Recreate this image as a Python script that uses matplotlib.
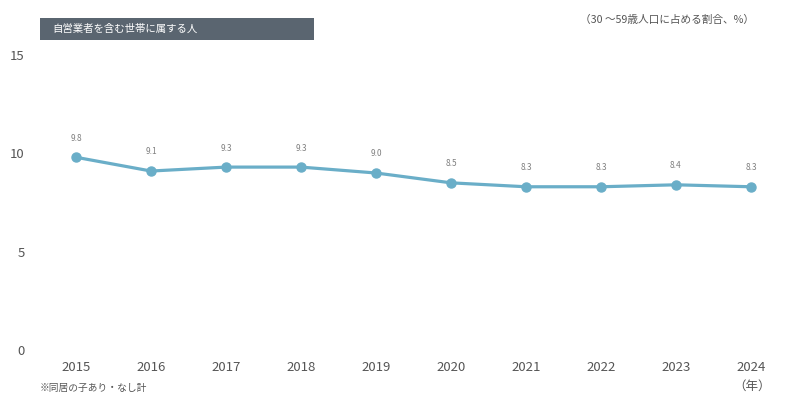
import matplotlib.pyplot as plt
from matplotlib.patches import Rectangle

plt.rcParams['font.family'] = ['Noto Sans CJK JP', 'DejaVu Sans']

# Data
years = [2015, 2016, 2017, 2018, 2019, 2020, 2021, 2022, 2023, 2024]
share = [9.8, 9.1, 9.3, 9.3, 9.0, 8.5, 8.3, 8.3, 8.4, 8.3]
y_ticks = [0, 5, 10, 15]

title_text = "自営業者を含む世帯に属する人"
unit_text = "（30 ～59歳人口に占める割合、%）"
note_text = "※同居の子あり・なし計"
year_unit = "（年）"

line_color = "#6aaec8"
text_color = "#555555"

fig = plt.figure(figsize=(8, 4), dpi=100)
ax = fig.add_axes([40 / 800, 50 / 400, 750 / 800, 295 / 400])

ax.plot(years, share, color=line_color, linewidth=2.3, marker="o",
        markersize=6.5, clip_on=False, zorder=3)

# value labels above each point
for x, v in zip(years, share):
    ax.annotate(f"{v:.1f}", (x, v), xytext=(0, 10.5), textcoords="offset points",
                ha="center", va="bottom", fontsize=6, color="#808080")

ax.set_xlim(2014.52, 2024.52)
ax.set_ylim(0, 15)
ax.set_xticks(years)
ax.set_yticks(y_ticks)
ax.tick_params(axis="both", length=0, labelsize=9.5, colors=text_color)
ax.tick_params(axis="x", pad=8)
ax.tick_params(axis="y", pad=11)
for s in ax.spines.values():
    s.set_visible(False)

# dark title box
fig.patches.append(Rectangle((40 / 800, 1 - 40 / 400), 274 / 800, 22 / 400,
                             transform=fig.transFigure, facecolor="#5a6570",
                             edgecolor="none"))
fig.text(52 / 800, 1 - 29 / 400, title_text, color="white", fontsize=7.5,
         va="center", ha="left")

fig.text(754 / 800, 1 - 20 / 400, unit_text, color=text_color, fontsize=7.7,
         va="center", ha="right")
fig.text(40 / 800, 1 - 388 / 400, note_text, color=text_color, fontsize=7,
         va="center", ha="left")
fig.text(752 / 800, 1 - 386 / 400, year_unit, color=text_color, fontsize=9,
         va="center", ha="center")

fig.savefig("out.png", dpi=100, facecolor="white")
